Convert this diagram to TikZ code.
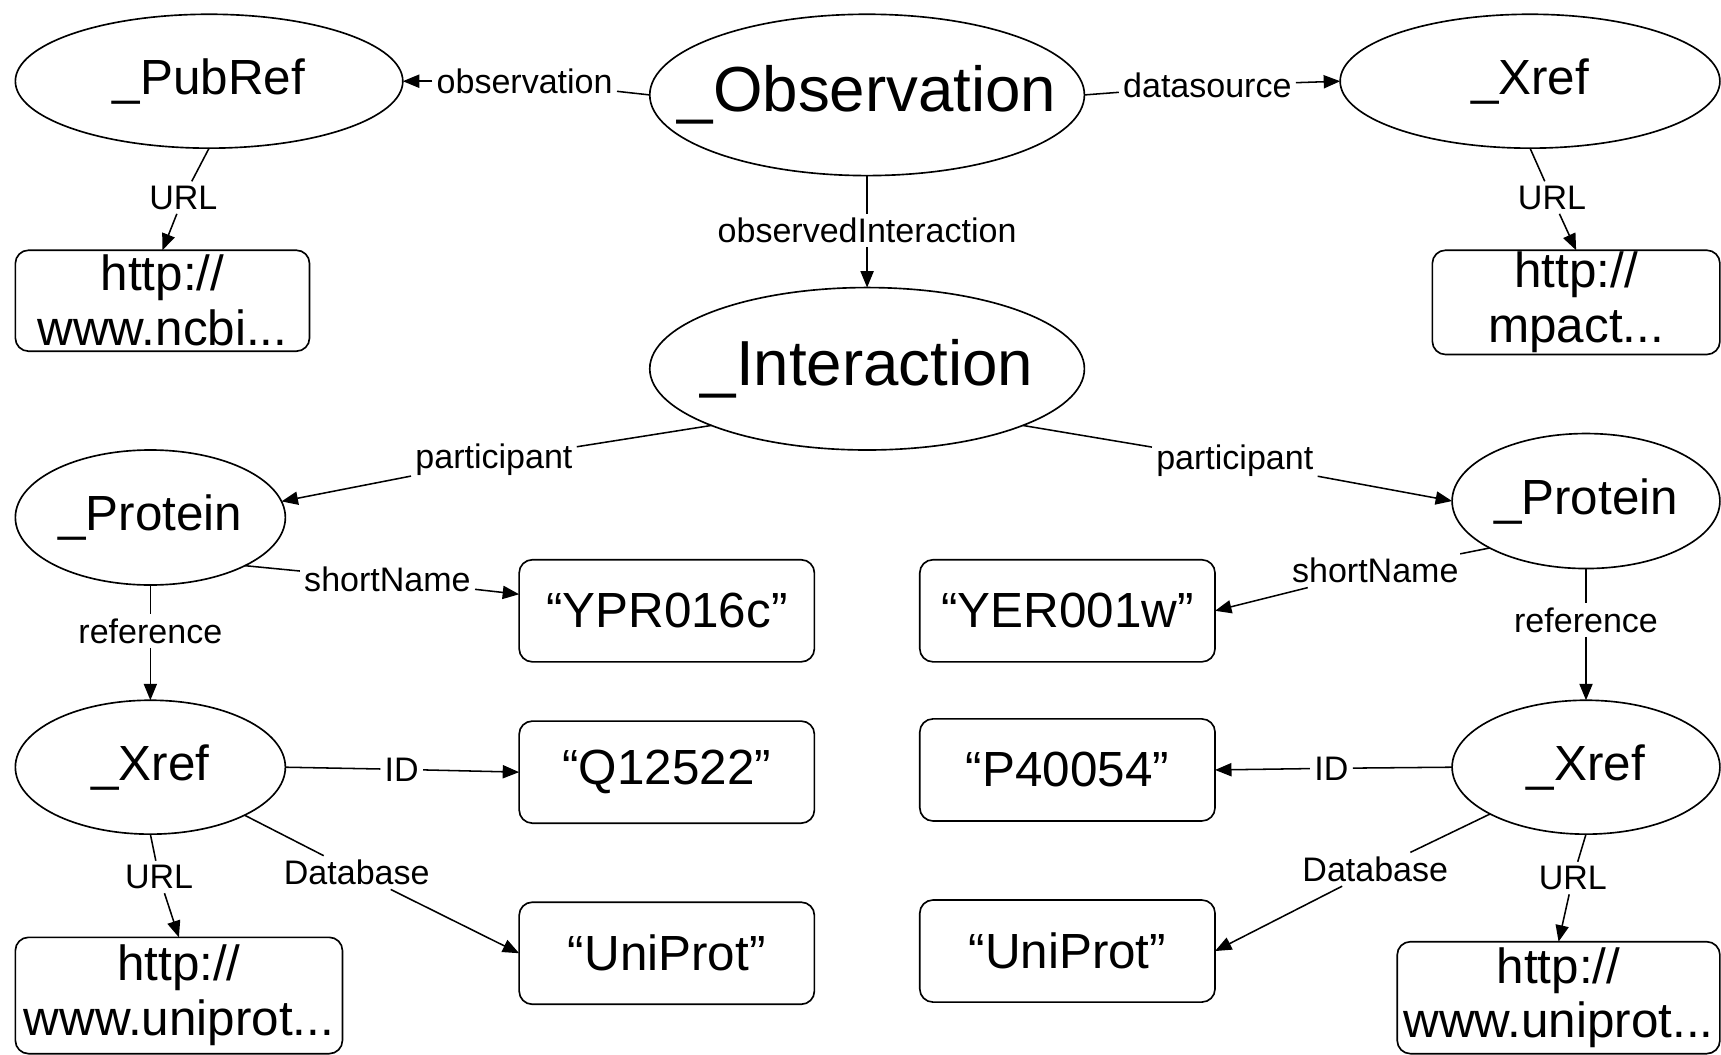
\documentclass[tikz,border=0pt]{standalone}
\usepackage{fontspec}
\setmainfont{Liberation Sans}
\usetikzlibrary{shapes.geometric,arrows.meta}
\begin{document}
\begin{tikzpicture}[x=0.5pt,y=-0.5pt,
  every node/.style={inner sep=0pt, outer sep=0pt},
  ell/.style={ellipse, draw, line width=0.75pt},
  bigtxt/.style={font=\fontsize{29}{32}\selectfont},
  medtxt/.style={font=\fontsize{22.5}{25}\selectfont},
  valbox/.style={draw, line width=0.75pt, rounded corners=6pt, align=center, font=\fontsize{22.5}{25}\selectfont},
  lab/.style={font=\fontsize{15.5}{17}\selectfont, inner sep=2pt},
  conn/.style={line width=0.7pt},
  arr/.style={conn, -{Triangle[length=7.5pt,width=6pt]}}
]
\useasboundingbox (0,0) rectangle (1568,961);

% ellipses
\node[ell, minimum width=176.5pt, minimum height=61pt, label={[medtxt]center:\_PubRef}] (pubref) at (190.5,74) {};
\node[ell, minimum width=198pt, minimum height=73.5pt, label={[bigtxt]center:\_Observation}] (obs) at (790,86.5) {};
\node[ell, minimum width=173pt, minimum height=61pt, label={[medtxt]center:\_Xref}] (xrefT) at (1394,74) {};
\node[ell, minimum width=198pt, minimum height=74pt, label={[bigtxt]center:\_Interaction}] (inter) at (790,336) {};
\node[ell, minimum width=123pt, minimum height=61.5pt, label={[medtxt]center:\_Protein}] (protL) at (137,471.5) {};
\node[ell, minimum width=122pt, minimum height=61.5pt, label={[medtxt]center:\_Protein}] (protR) at (1445,456.5) {};
\node[ell, minimum width=123pt, minimum height=61pt, label={[medtxt]center:\_Xref}] (xrefL) at (137,699) {};
\node[ell, minimum width=122pt, minimum height=61pt, label={[medtxt]center:\_Xref}] (xrefR) at (1445,699) {};

% value boxes
\node[valbox, minimum width=134pt, minimum height=46pt] (ncbi) at (148,274) {http://\\www.ncbi...};
\node[valbox, minimum width=131pt, minimum height=47.5pt] (mpact) at (1436,275.5) {http://\\mpact...};
\node[valbox, minimum width=134.5pt, minimum height=46.5pt] (ypr) at (607.5,556.5) {“YPR016c”};
\node[valbox, minimum width=134.5pt, minimum height=46.5pt] (yer) at (972.5,556.5) {“YER001w”};
\node[valbox, minimum width=134.5pt, minimum height=46.5pt] (q125) at (607.5,703.5) {“Q12522”};
\node[valbox, minimum width=134.5pt, minimum height=46.5pt] (p400) at (972.5,701.5) {“P40054”};
\node[valbox, minimum width=134.5pt, minimum height=46.5pt] (uniL) at (607.5,868.5) {“UniProt”};
\node[valbox, minimum width=134.5pt, minimum height=46.5pt] (uniR) at (972.5,866.5) {“UniProt”};
\node[valbox, minimum width=149pt, minimum height=53pt] (upL) at (163,907) {http://\\www.uniprot...};
\node[valbox, minimum width=147pt, minimum height=51pt] (upR) at (1420,909) {http://\\www.uniprot...};

% edge labels
\node[lab] (lobs) at (478,74) {observation};
\node[lab] (lds) at (1100,78) {datasource};
\node[lab] (loi) at (790,210) {observedInteraction};
\node[lab] (lu1) at (167,180) {URL};
\node[lab] (lu2) at (1414,180) {URL};
\node[lab] (lp1) at (450,419) {participant};
\node[lab] (lp2) at (1125,420) {participant};
\node[lab] (lsn1) at (353,528) {shortName};
\node[lab] (lsn2) at (1253,520) {shortName};
\node[lab] (lr1) at (137,575) {reference};
\node[lab] (lr2) at (1445,565) {reference};
\node[lab] (lid1) at (366,701) {ID};
\node[lab] (lid2) at (1213,700) {ID};
\node[lab] (ldb1) at (325,795) {Database};
\node[lab] (ldb2) at (1253,792) {Database};
\node[lab] (lu3) at (145,799) {URL};
\node[lab] (lu4) at (1433,800) {URL};

% connectors
\draw[conn] (obs.west) -- (lobs);  \draw[arr] (lobs) -- (pubref.east);
\draw[conn] (obs.east) -- (lds);   \draw[arr] (lds) -- (xrefT.west);
\draw[conn] (obs.south) -- (loi);  \draw[arr] (loi) -- (inter.north);
\draw[conn] (pubref.south) -- (lu1); \draw[arr] (lu1) -- (ncbi.north);
\draw[conn] (xrefT.south) -- (lu2);  \draw[arr] (lu2) -- (mpact.north);
\draw[conn] (inter.200) -- (lp1);  \draw[arr] (lp1) -- (protL.7);
\draw[conn] (inter.-20) -- (lp2);  \draw[arr] (lp2) -- (protR.west);
\draw[conn] (protL.-27) -- (lsn1); \draw[arr] (lsn1) -- (ypr);
\draw[conn] (protR.206) -- (lsn2); \draw[arr] (lsn2) -- (yer.east);
\draw[conn] (protL.south) -- (lr1); \draw[arr] (lr1) -- (xrefL.north);
\draw[conn] (protR.south) -- (lr2); \draw[arr] (lr2) -- (xrefR.north);
\draw[conn] (xrefL.east) -- (lid1); \draw[arr] (lid1) -- (q125.west);
\draw[conn] (xrefR.west) -- (lid2); \draw[arr] (lid2) -- (p400.east);
\draw[conn] (xrefL.-27) -- (ldb1); \draw[arr] (ldb1) -- (uniL.west);
\draw[conn] (xrefR.206) -- (ldb2); \draw[arr] (ldb2) -- (uniR.east);
\draw[conn] (xrefL.south) -- (lu3); \draw[arr] (lu3) -- (upL.north);
\draw[conn] (xrefR.south) -- (lu4); \draw[arr] (lu4) -- (upR.north);
\end{tikzpicture}
\end{document}
